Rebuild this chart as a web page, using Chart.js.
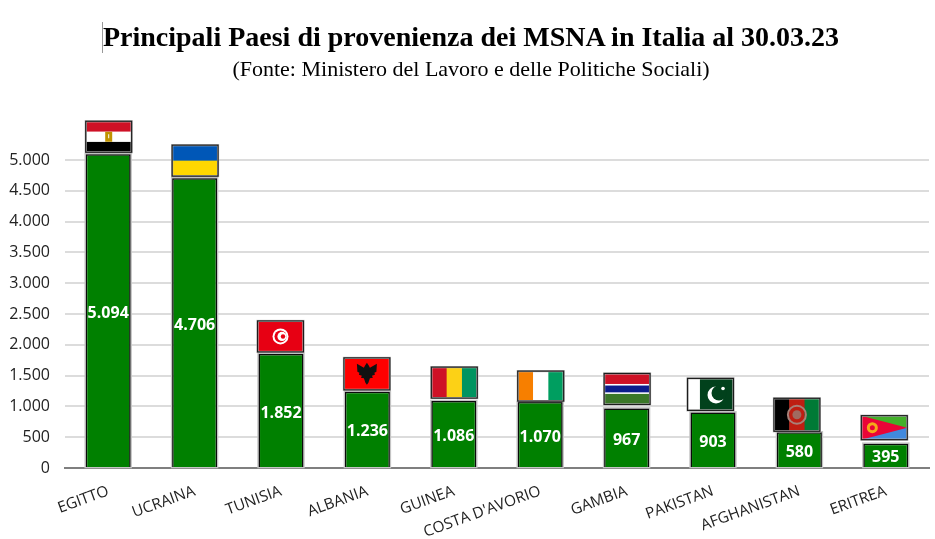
<!DOCTYPE html>
<html>
<head>
<meta charset="utf-8">
<title>MSNA</title>
<script src="https://cdn.jsdelivr.net/npm/chart.js@4"></script>
<style>
html, body { margin: 0; padding: 0; background: #fff; }
#wrap { position: relative; width: 935px; height: 539px; overflow: hidden; }
#cursore { position: absolute; left: 102px; top: 22px; width: 1px; height: 31px; background: #999; }
.testa { position: absolute; left: 0; width: 942px; margin: 0; text-align: center; color: #000; font-family: "Liberation Serif", serif; white-space: nowrap; }
#titolo { top: 20px; font-size: 28px; line-height: 33.6px; font-weight: bold; }
#sottotitolo { top: 56px; font-size: 22px; line-height: 26.4px; font-weight: normal; }
canvas { position: absolute; left: 0; top: 0; }
</style>
</head>
<body>
<div id="wrap">
  <canvas id="grafico" width="935" height="539"></canvas>
  <h1 class="testa" id="titolo">Principali Paesi di provenienza dei MSNA in Italia al 30.03.23</h1>
  <h2 class="testa" id="sottotitolo">(Fonte: Ministero del Lavoro e delle Politiche Sociali)</h2>
  <div id="cursore"></div>
</div>
<script>
/*---------------------------------
   DATI
 ----------------------------------*/
var paesi = ['EGITTO', 'UCRAINA', 'TUNISIA', 'ALBANIA', 'GUINEA', "COSTA D'AVORIO", 'GAMBIA', 'PAKISTAN', 'AFGHANISTAN', 'ERITREA'];
var minori = [5094, 4706, 1852, 1236, 1086, 1070, 967, 903, 580, 395];
var tickValori = [0, 500, 1000, 1500, 2000, 2500, 3000, 3500, 4000, 4500, 5000];

/*---------------------------------
   BANDIERE (una per barra)
 ----------------------------------*/
var flagDx = [0, 0, -1, -1, 0, 0, 0, -3, -3, -2];
var flagGap = [2, 2, 2, 2, 3, 1, 4, 2, 1, 4];
var flagH = [31, 31, 31, 32, 31, 30, 31, 32, 33, 24];

function strisce(c, x, y, w, h, colori, verticali) {
    colori.forEach(function(col, i) {
        c.fillStyle = col;
        if (verticali) {
            c.fillRect(x + w * i / colori.length, y, w / colori.length + 0.5, h);
        } else {
            c.fillRect(x, y + h * i / colori.length, w, h / colori.length + 0.5);
        }
    });
}

function cerchio(c, x, y, r, col) {
    c.fillStyle = col;
    c.beginPath();
    c.arc(x, y, r, 0, Math.PI * 2);
    c.fill();
}

var disegnaFlag = [
    function(c, x, y, w, h) {
        strisce(c, x, y, w, h, ['#ce1126', '#ffffff', '#000000']);
        c.fillStyle = '#c09300';
        c.fillRect(x + w / 2 - 3.5, y + h / 2 - 5, 7, 10);
        c.fillStyle = '#fff';
        c.fillRect(x + w / 2 - 0.5, y + h / 2 - 2.5, 1, 4);
    },
    function(c, x, y, w, h) {
        strisce(c, x, y, w, h, ['#0057b7', '#ffd700']);
    },
    function(c, x, y, w, h) {
        c.fillStyle = '#e70013';
        c.fillRect(x, y, w, h);
        cerchio(c, x + w / 2, y + h / 2, 8, '#fff');
        cerchio(c, x + w / 2, y + h / 2, 6, '#e70013');
        cerchio(c, x + w / 2 + 1.5, y + h / 2, 4.6, '#fff');
        cerchio(c, x + w / 2 + 2.5, y + h / 2, 2.2, '#e70013');
    },
    function(c, x, y, w, h) {
        c.fillStyle = '#ff0000';
        c.fillRect(x, y, w, h);
        var mx = x + w / 2, my = y + h / 2 - 1;
        var punti = [[0, -10], [2, -7], [3, -5], [10, -9], [9.5, -1], [7.5, 0], [8, 2], [5, 3], [6, 5], [3, 5.5], [1.5, 10], [0, 12],
            [-1.5, 10], [-3, 5.5], [-6, 5], [-5, 3], [-8, 2], [-7.5, 0], [-9.5, -1], [-10, -9], [-3, -5], [-2, -7]];
        c.fillStyle = '#111';
        c.beginPath();
        punti.forEach(function(p, i) {
            if (i === 0) c.moveTo(mx + p[0], my + p[1]); else c.lineTo(mx + p[0], my + p[1]);
        });
        c.closePath();
        c.fill();
    },
    function(c, x, y, w, h) {
        strisce(c, x, y, w, h, ['#ce1126', '#fcd116', '#009460'], true);
    },
    function(c, x, y, w, h) {
        strisce(c, x, y, w, h, ['#f77f00', '#ffffff', '#009e60'], true);
    },
    function(c, x, y, w, h) {
        c.fillStyle = '#ce1126';
        c.fillRect(x, y, w, h * 0.34);
        c.fillStyle = '#fff';
        c.fillRect(x, y + h * 0.34, w, h * 0.32);
        c.fillStyle = '#0c1c8c';
        c.fillRect(x, y + h * 0.39, w, h * 0.22);
        c.fillStyle = '#3a7728';
        c.fillRect(x, y + h * 0.66, w, h * 0.34);
    },
    function(c, x, y, w, h) {
        c.fillStyle = '#fff';
        c.fillRect(x, y, w * 0.27, h);
        c.fillStyle = '#01411c';
        c.fillRect(x + w * 0.27, y, w * 0.73, h);
        var mx = x + w * 0.62, my = y + h * 0.52;
        cerchio(c, mx, my, 8.5, '#fff');
        cerchio(c, mx + 3, my - 2, 7.5, '#01411c');
        cerchio(c, mx + 7, my - 6.5, 1.8, '#fff');
    },
    function(c, x, y, w, h) {
        strisce(c, x, y, w, h, ['#000000', '#be1e12', '#007a36'], true);
        c.strokeStyle = '#a98078';
        c.lineWidth = 2;
        c.beginPath();
        c.arc(x + w / 2, y + h / 2, 9, 0, Math.PI * 2);
        c.stroke();
        cerchio(c, x + w / 2, y + h / 2, 4.5, '#a06a60');
    },
    function(c, x, y, w, h) {
        c.fillStyle = '#43b02a';
        c.fillRect(x, y, w, h / 2);
        c.fillStyle = '#4189dd';
        c.fillRect(x, y + h / 2, w, h / 2);
        c.fillStyle = '#ea0437';
        c.beginPath();
        c.moveTo(x, y);
        c.lineTo(x + w, y + h / 2);
        c.lineTo(x, y + h);
        c.closePath();
        c.fill();
        cerchio(c, x + 11, y + h / 2, 5.5, '#f5a818');
        cerchio(c, x + 11, y + h / 2, 2.5, '#ea0437');
    }
];

function conPunto(v) {
    return String(v).replace(/\B(?=(\d{3})+$)/g, '.');
}

/*---------------------------------
   PLUGIN: ALONE, BANDIERE, ETICHETTE
 ----------------------------------*/
var pluginBarre = {
    id: 'pluginBarre',
    beforeDatasetsDraw: function(chart) {
        var c = chart.ctx;
        c.save();
        c.strokeStyle = '#c4c4c4';
        c.lineWidth = 2.5;
        chart.getDatasetMeta(0).data.forEach(function(bar) {
            c.strokeRect(bar.x - bar.width / 2, bar.y, bar.width, bar.base - bar.y);
        });
        c.restore();
    },
    afterDatasetsDraw: function(chart) {
        var c = chart.ctx;
        c.save();
        chart.getDatasetMeta(0).data.forEach(function(bar, i) {
            // bandiera appoggiata sopra la barra
            var w = bar.width + 1;
            var x = bar.x - bar.width / 2 + flagDx[i];
            var y = bar.y - flagGap[i] - flagH[i];
            disegnaFlag[i](c, x, y, w, flagH[i]);
            c.strokeStyle = '#bdbdbd';
            c.lineWidth = 2.2;
            c.strokeRect(x, y, w, flagH[i]);
            c.strokeStyle = '#1c1c1c';
            c.lineWidth = 1.2;
            c.strokeRect(x, y, w, flagH[i]);

            c.fillStyle = '#fff';
            c.font = 'bold 16px "Open Sans"';
            c.textAlign = 'center';
            c.textBaseline = 'middle';
            c.fillText(conPunto(minori[i]), bar.x, (bar.y + bar.base) / 2 + 2.5);
        });
        c.restore();
    }
};

/*---------------------------------
   GRAFICO
 ----------------------------------*/
new Chart(document.getElementById('grafico'), {
    type: 'bar',
    data: {
        labels: paesi,
        datasets: [{
            data: minori,
            backgroundColor: '#008000',
            borderColor: '#0a0a0a',
            borderWidth: 1.5,
            categoryPercentage: 1,
            barPercentage: 0.52
        }]
    },
    options: {
        responsive: false,
        animation: false,
        layout: { padding: { left: 0, right: 6, top: 120, bottom: 0 } },
        plugins: {
            legend: { display: false },
            tooltip: { enabled: false }
        },
        scales: {
            x: {
                afterFit: function(axis) { axis.height = 71; },
                grid: { display: false, drawTicks: false },
                border: { display: true, color: '#7f7f7f', width: 2 },
                ticks: {
                    autoSkip: false,
                    minRotation: 20,
                    maxRotation: 20,
                    padding: 14,
                    color: '#222',
                    font: { family: '"Open Sans"', size: 15.4 }
                }
            },
            y: {
                min: 0,
                max: 5650,
                afterFit: function(axis) { axis.width = 65; },
                afterBuildTicks: function(axis) {
                    axis.ticks = tickValori.map(function(v) { return { value: v }; });
                },
                grid: { color: '#dcdcdc', lineWidth: 2, drawTicks: false },
                border: { display: false },
                ticks: {
                    padding: 15,
                    color: '#222',
                    font: { family: '"Open Sans"', size: 16 },
                    callback: function(v) { return conPunto(v); }
                }
            }
        }
    },
    plugins: [pluginBarre]
});
</script>
</body>
</html>
